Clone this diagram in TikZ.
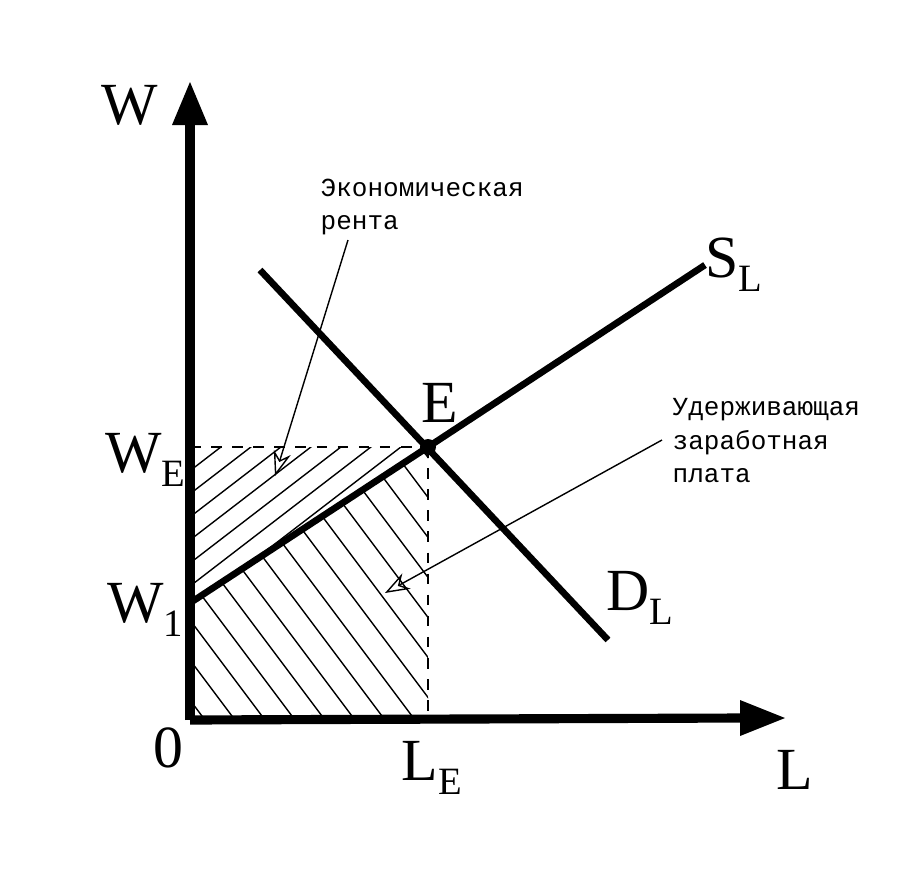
\documentclass[tikz,border=0pt]{standalone}
\usepackage{fontspec}
\setmainfont{Liberation Serif}
\newfontfamily\lblfont{Liberation Mono}
\usetikzlibrary{patterns,arrows.meta}
\newcommand{\subl}[1]{\raisebox{-0.5ex}{\fontsize{11}{11}\selectfont #1}}
\begin{document}
\begin{tikzpicture}[x=0.01cm,y=-0.01cm,
  big/.style={font=\fontsize{17}{17}\selectfont},
  note/.style={font=\lblfont\fontsize{7.4}{9.5}\selectfont,align=left,anchor=north west,inner sep=0},
  curve/.style={line width=1.9pt},
  ptr/.style={thin,-{Stealth[open,length=7pt,width=5pt]}}]
\useasboundingbox (0,0) rectangle (908,872);
\fill[white] (0,0) rectangle (908,872);
\coordinate (O) at (190,720);
\coordinate (E) at (428,447);
\coordinate (W1) at (190,603);
\coordinate (WE) at (190,447);
\coordinate (LE) at (428,720);
% hatching
\begin{scope}
\clip (WE) -- (E) -- (W1) -- cycle;
\foreach \i in {-400,-370,...,400} \draw[thin] (190+\i,640) -- (190+\i+260,440);
\end{scope}
\begin{scope}
\clip (W1) -- (E) -- (LE) -- (O) -- cycle;
\foreach \i in {-300,-270,...,500} \draw[thin] (190+\i,420) -- (190+\i+240,740);
\end{scope}
\draw[dashed] (WE) -- (E);
\draw[dashed] (E) -- (LE);
% axes
\draw[line width=2.6pt] (O) -- (190,120);
\fill (190,82) -- (172,125) -- (208,125) -- cycle;
\draw[line width=2.6pt] (O) -- (745,718);
\fill (785,718) -- (740,700) -- (740,736) -- cycle;
% curves
\coordinate (S1) at (705,265);
\coordinate (D0) at (260,270);
\coordinate (D1) at (608,640);
\draw[curve] (W1) -- (E) -- (S1);
\draw[curve] (D0) -- (D1);
\fill (E) circle (8);
% labels
\node[big] at (130,105) {W};
\node[big,anchor=east,inner sep=0] at (186,460) {W\subl{E}};
\node[big,anchor=east,inner sep=0] at (184,610) {W\subl{1}};
\node[big] at (168,748) {0};
\node[big] at (420,768) {L\rlap{\subl{E}}};
\node[big] at (795,770) {L};
\node[big] at (440,403) {E};
\node[big] at (722,265) {S\rlap{\subl{L}}};
\node[big] at (628,598) {D\rlap{\subl{L}}};
\node[note] (n1) at (320,178) {Экономическая\\рента};
\node[note] (n2) at (672,398) {Удерживающая\\заработная\\плата};
\coordinate (a1) at (348,240);
\coordinate (b1) at (275,476);
\coordinate (a2) at (662,440);
\coordinate (b2) at (385,593);
\draw[ptr] (a1) -- (b1);
\draw[ptr] (a2) -- (b2);
\end{tikzpicture}
\end{document}
